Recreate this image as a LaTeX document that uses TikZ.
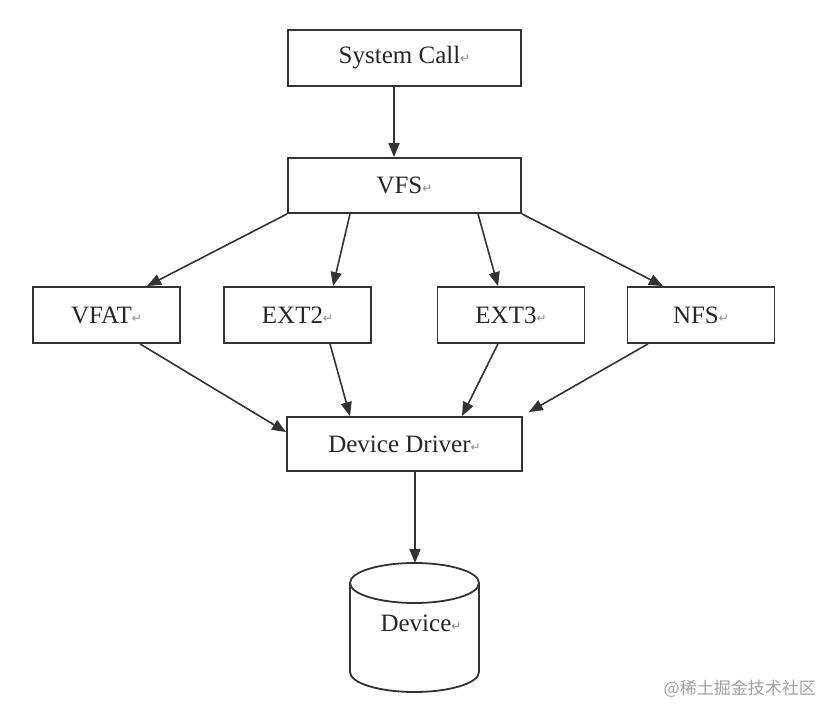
\documentclass[tikz,border=0pt]{standalone}
\usepackage{fontspec}
\setmainfont{Liberation Serif}
\newfontfamily\symfont{DejaVu Sans}
\newfontfamily\cjkfont{Noto Sans CJK SC}
\usetikzlibrary{arrows.meta}
\definecolor{linec}{HTML}{333333}
\definecolor{textc}{HTML}{262626}
\definecolor{markc}{HTML}{8A8A8A}
\newcommand{\retmark}{{\symfont\fontsize{12}{12}\selectfont\color{markc}\raisebox{1pt}{↵}}}
\tikzset{
  box/.style={draw=linec, line width=1.8pt, fill=white, minimum height=56pt, inner sep=0pt,
    font=\fontsize{25}{30}\selectfont, text=textc},
  wide/.style={box, minimum width=233pt},
  narrow/.style={box, minimum width=147pt},
  arr/.style={draw=linec, line width=1.6pt, -{Triangle[length=14pt,width=11pt]}, shorten >=0pt},
}
\begin{document}
\begin{tikzpicture}[x=1pt,y=1pt]
\useasboundingbox (0,0) rectangle (836,718);
\fill[white] (0,0) rectangle (836,718);
% boxes
\node[wide] (sys) at (404.5,660) {System Call\retmark};
\node[wide, minimum height=55pt] (vfs) at (404.5,532.5) {VFS\retmark};
\node[narrow] (vfat) at (106.5,403) {VFAT\retmark};
\node[narrow] (ext2) at (297.5,403) {EXT2\retmark};
\node[narrow] (ext3) at (511,403) {EXT3\retmark};
\node[narrow] (nfs) at (701,403) {NFS\retmark};
\node[wide, minimum width=235pt, minimum height=54pt] (dd) at (404.5,274) {Device Driver\retmark};
% cylinder
\draw[linec, line width=1.8pt, fill=white] (350,135) -- (350,46) arc (180:360:64.5 and 20) -- (479,135);
\draw[linec, line width=1.8pt] (414.5,135) ellipse (64.5 and 20);
\coordinate (devtop) at (415,155);
\node[font=\fontsize{25}{30}\selectfont, text=textc, inner sep=0pt] (dev) at (421,95) {Device\retmark};
% arrows
\draw[arr] ([xshift=-10.5pt]sys.south) -- ([xshift=-10.5pt]vfs.north);
\draw[arr] (vfs.south west) -- ([xshift=40.5pt]vfat.north);
\draw[arr] ([xshift=-54.5pt]vfs.south) -- ([xshift=35.5pt]ext2.north);
\draw[arr] ([xshift=73.5pt]vfs.south) -- ([xshift=-13pt]ext3.north);
\draw[arr] (vfs.south east) -- ([xshift=-38pt]nfs.north);
\draw[arr] ([xshift=33.5pt]vfat.south) -- ([yshift=-16pt]dd.north west);
\draw[arr] ([xshift=32.5pt]ext2.south) -- ([xshift=-54.5pt]dd.north);
\draw[arr] ([xshift=-13pt]ext3.south) -- ([xshift=57.5pt]dd.north);
\draw[arr] ([xshift=-53pt]nfs.south) -- ([shift={(6pt,4pt)}]dd.north east);
\draw[arr] ([xshift=10.5pt]dd.south) -- (devtop);
% watermark
\node[font=\cjkfont\fontsize{17}{17}\selectfont, text=markc!80, anchor=east, inner sep=0pt] (wm) at (816,29) {@稀土掘金技术社区};
\end{tikzpicture}
\end{document}
